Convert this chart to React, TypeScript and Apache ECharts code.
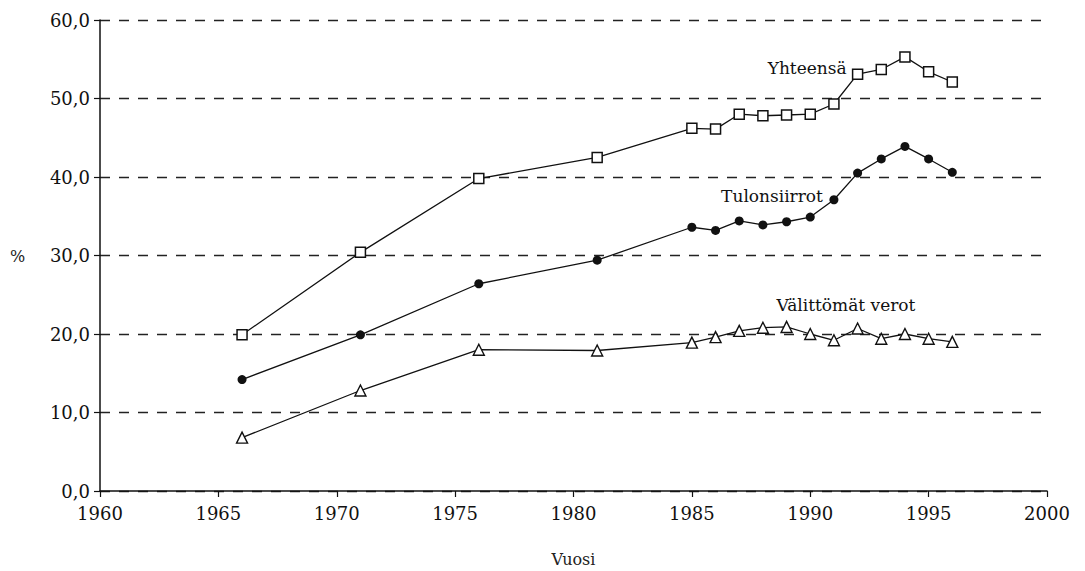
import React, { useEffect, useRef } from "react";
import * as echarts from "echarts";

const years = [1966, 1971, 1976, 1981, 1985, 1986, 1987, 1988, 1989, 1990, 1991, 1992, 1993, 1994, 1995, 1996];
const yhteensa = [19.9, 30.4, 39.8, 42.5, 46.2, 46.1, 48.0, 47.8, 47.9, 48.0, 49.3, 53.1, 53.7, 55.3, 53.4, 52.1];
const tulonsiirrot = [14.2, 19.9, 26.4, 29.4, 33.6, 33.2, 34.4, 33.9, 34.3, 34.9, 37.1, 40.5, 42.3, 43.9, 42.3, 40.6];
const verot = [6.8, 12.8, 18.0, 17.9, 18.9, 19.6, 20.4, 20.8, 20.9, 20.0, 19.2, 20.7, 19.4, 20.0, 19.4, 19.0];

const seriesNames = ["Yhteensä", "Tulonsiirrot", "Välittömät verot"];

const xTicks = { min: 1960, max: 2000, step: 5 };
const yTicks = { min: 0, max: 60, step: 10 };

const FONT = "DejaVu Serif";

export default function App() {
  const ref = useRef<HTMLDivElement>(null);
  useEffect(() => {
    if (!ref.current) return;
    const chart = echarts.init(ref.current, undefined, { renderer: "svg" });
    const pair = (arr: number[]) => years.map((y, i) => [y, arr[i]]);
    const lineStyle = { color: "#111", width: 1.3 };
    chart.setOption({
      animation: false,
      backgroundColor: "#fff",
      grid: { left: 100, right: 38, top: 20, bottom: 80, containLabel: false, outerBoundsMode: "none" },
      xAxis: {
        type: "value",
        min: xTicks.min,
        max: xTicks.max,
        interval: xTicks.step,
        name: "Vuosi",
        nameLocation: "middle",
        nameGap: 60,
        nameTextStyle: { fontFamily: FONT, fontSize: 16, color: "#222" },
        axisLine: { lineStyle: { color: "#111", width: 1.5 } },
        axisTick: { show: true, length: 6, lineStyle: { color: "#111", width: 1.2 } },
        axisLabel: {
          formatter: (v: number) => String(v),
          fontFamily: FONT,
          fontSize: 18,
          color: "#111",
          margin: 13,
        },
        splitLine: { show: false },
      },
      yAxis: {
        type: "value",
        min: yTicks.min,
        max: yTicks.max,
        interval: yTicks.step,
        axisLine: { show: true, lineStyle: { color: "#111", width: 1.5 } },
        axisTick: { show: true, length: 6, lineStyle: { color: "#111", width: 1.2 } },
        axisLabel: {
          formatter: (v: number) => v.toFixed(1).replace(".", ","),
          fontFamily: FONT,
          fontSize: 18,
          color: "#111",
          margin: 10,
        },
        splitLine: {
          show: true,
          lineStyle: { color: "#222", width: 1.4, type: [10, 9] },
        },
      },
      series: [
        {
          name: seriesNames[0],
          type: "line",
          data: pair(yhteensa),
          symbol: "rect",
          symbolSize: 10,
          lineStyle,
          itemStyle: { color: "#fff", borderColor: "#111", borderWidth: 1.5 },
          z: 3,
        },
        {
          name: seriesNames[1],
          type: "line",
          data: pair(tulonsiirrot),
          symbol: "circle",
          symbolSize: 9,
          lineStyle,
          itemStyle: { color: "#111", borderColor: "#111", borderWidth: 0 },
          z: 3,
        },
        {
          name: seriesNames[2],
          type: "line",
          data: pair(verot),
          symbol: "triangle",
          symbolSize: 11,
          lineStyle,
          itemStyle: { color: "#fff", borderColor: "#111", borderWidth: 1.4 },
          z: 3,
        },
      ],
    });
    const px = (i: number, arr: number[]) =>
      chart.convertToPixel({ gridIndex: 0 }, [years[i], arr[i]]) as number[];
    const pY = px(11, yhteensa); // 1992
    const pT = px(10, tulonsiirrot); // 1991
    const pV = px(10, verot); // 1991
    const font = `17px '${FONT}'`;
    chart.setOption({
      graphic: [
        {
          type: "text",
          x: 10,
          y: 256,
          style: { text: "%", font: `16px '${FONT}'`, fill: "#222", verticalAlign: "middle" },
        },
        {
          type: "text",
          x: pY[0] - 11,
          y: pY[1] - 6,
          style: { text: seriesNames[0], font, fill: "#111", align: "right", verticalAlign: "middle" },
        },
        {
          type: "text",
          x: pT[0] - 11,
          y: pT[1] - 4,
          style: { text: seriesNames[1], font, fill: "#111", align: "right", verticalAlign: "middle" },
        },
        {
          type: "text",
          x: pV[0] + 12,
          y: pV[1] - 35,
          style: { text: seriesNames[2], font, fill: "#111", align: "center", verticalAlign: "middle" },
        },
      ],
    });
    return () => chart.dispose();
  }, []);
  return (
    <div
      ref={ref}
      style={{ position: "fixed", left: 0, top: 0, width: 1085, height: 571, background: "#fff" }}
    />
  );
}
